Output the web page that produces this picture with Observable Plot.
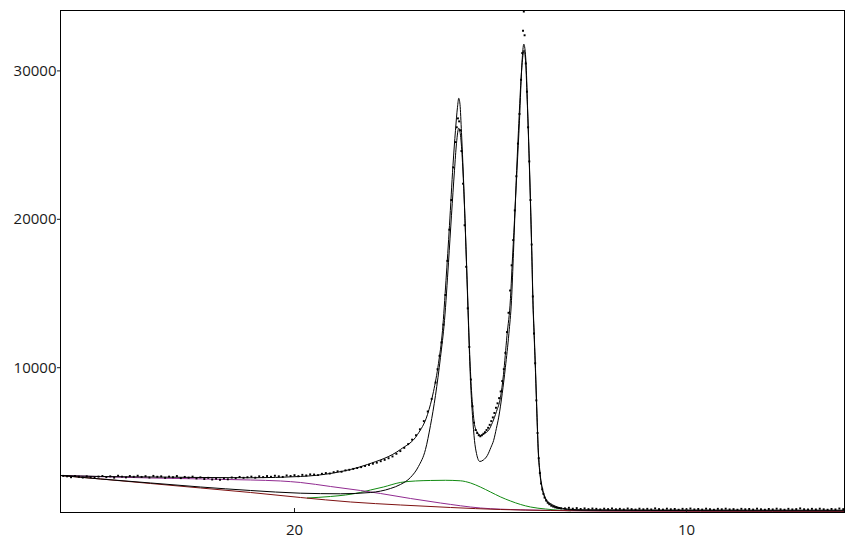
<!DOCTYPE html>
<html>
<head>
<meta charset="utf-8">
<script src="https://cdn.jsdelivr.net/npm/d3@7"></script>
<script src="https://cdn.jsdelivr.net/npm/@observablehq/plot@0.6"></script>
<style>
  html, body { margin: 0; padding: 0; background: white; }
</style>
</head>
<body>
<div id="chart"></div>
<script>
const xTicks = [20, 10];
const yTicks = [10000, 20000, 30000];

const totalX = [25.969, 24.949, 23.673, 22.398, 21.122, 19.847, 19.005, 18.138, 17.296, 16.862, 16.607, 16.454, 16.327, 16.224, 16.135, 16.046, 15.957, 15.893, 15.842, 15.809, 15.778, 15.740, 15.689, 15.638, 15.587, 15.536, 15.485, 15.446, 15.408, 15.332, 15.255, 15.153, 15.051, 14.949, 14.847, 14.745, 14.668, 14.579, 14.490, 14.452, 14.388, 14.324, 14.260, 14.196, 14.150, 14.094, 14.056, 14.018, 13.980, 13.946, 13.916, 13.883, 13.852, 13.814, 13.783, 13.737, 13.686, 13.635, 13.571, 13.469, 13.291, 13.036, 12.704, 10.918, 5.969];
const totalY = [2738, 2670, 2636, 2603, 2583, 2670, 2906, 3479, 4491, 5495, 6844, 8395, 10283, 12508, 15880, 19588, 23634, 25994, 27545, 28153, 27748, 25860, 22758, 19117, 15206, 11295, 8463, 7114, 6177, 5637, 5435, 5570, 5772, 6311, 7053, 7997, 9548, 12178, 14672, 16696, 19932, 23304, 26675, 30586, 31800, 30586, 27687, 24652, 21281, 17909, 14538, 12178, 9953, 6918, 4626, 2940, 1996, 1456, 1086, 850, 614, 479, 425, 411, 398];

const innerX = [25.969, 24.949, 23.673, 22.398, 21.122, 19.847, 18.827, 18.061, 17.551, 17.296, 17.041, 16.837, 16.658, 16.531, 16.403, 16.276, 16.173, 16.071, 15.995, 15.918, 15.867, 15.809, 15.765, 15.714, 15.663, 15.612, 15.561, 15.510, 15.459, 15.408, 15.357, 15.273, 15.18, 15.08, 14.99, 14.92, 14.85, 14.79, 14.70, 14.62, 14.53, 14.464, 14.413, 14.349, 14.286, 14.222, 14.171, 14.145, 14.107, 14.056, 14.018, 13.980, 13.946, 13.916, 13.883, 13.852, 13.814, 13.783, 13.737, 13.686, 13.635, 13.571, 13.469, 13.291, 13.036, 12.704, 10.918, 5.969];
const innerY = [2738, 2502, 2232, 1962, 1726, 1544, 1504, 1591, 1861, 2131, 2603, 3345, 4491, 6109, 8132, 10694, 13189, 17100, 20270, 23304, 25124, 26136, 25664, 23843, 20809, 16965, 12852, 9143, 6783, 5098, 4221, 3682, 3783, 4086, 4626, 5098, 5907, 6669, 8267, 10019, 12312, 14537, 17775, 22292, 26001, 29373, 31058, 31396, 30716, 27485, 24450, 21011, 17572, 14268, 11908, 9683, 6649, 4423, 2805, 1895, 1389, 1018, 782, 560, 445, 398, 378, 357];

const greenX = [19.67, 19.08, 18.70, 18.32, 18.06, 17.73, 17.30, 16.91, 16.53, 16.15, 15.77, 15.51, 15.26, 15.00, 14.74, 14.49, 14.23, 13.98, 13.60, 13.21, 12.96];
const greenY = [1220, 1322, 1423, 1591, 1760, 1962, 2266, 2367, 2401, 2414, 2380, 2232, 1962, 1625, 1288, 1018, 782, 614, 479, 391, 357];

const purpleX = [25.969, 23.673, 21.122, 20.357, 19.847, 19.082, 18.316, 17.806, 17.041, 16.276, 15.255, 14.235, 13.214, 9.643, 5.969];
const purpleY = [2738, 2569, 2434, 2367, 2266, 1996, 1726, 1524, 1187, 883, 546, 425, 375, 332, 326];

const redX = [25.969, 24.949, 23.673, 22.398, 21.122, 19.847, 18.571, 17.296, 16.020, 14.745, 13.469, 12.194, 9.643, 5.969];
const redY = [2738, 2502, 2198, 1895, 1591, 1254, 951, 749, 580, 445, 378, 344, 330, 324];

const dotX = [
  25.9, 25.8, 25.7, 25.6, 25.5, 25.4, 25.3, 25.2, 25.1, 25.0, 24.9, 24.8, 24.7, 24.6, 24.5, 24.4, 24.3, 24.2, 24.1, 24.0,
  23.9, 23.8, 23.7, 23.6, 23.5, 23.4, 23.3, 23.2, 23.1, 23.0, 22.9, 22.8, 22.7, 22.6, 22.5, 22.4, 22.3, 22.2, 22.1, 22.0,
  21.9, 21.8, 21.7, 21.6, 21.5, 21.4, 21.3, 21.2, 21.1, 21.0, 20.9, 20.8, 20.7, 20.6, 20.5, 20.4, 20.3, 20.2, 20.1, 20.0,
  19.9, 19.8, 19.7, 19.6,
  19.5, 19.4, 19.3, 19.2, 19.1, 19.0, 18.9, 18.8, 18.7, 18.6, 18.5, 18.4, 18.3, 18.2, 18.1, 18.0, 17.9, 17.8, 17.7, 17.6,
  17.5, 17.4, 17.3, 17.2, 17.1, 17.0, 16.9, 16.8, 16.7, 16.6, 16.5, 16.4,
  16.35, 16.30, 16.25, 16.20, 16.15, 16.10, 16.05, 16.00, 15.95, 15.90, 15.86, 15.83, 15.80, 15.77, 15.74, 15.70, 15.66, 15.62, 15.58, 15.54,
  15.50, 15.46, 15.42, 15.38, 15.34, 15.30, 15.26, 15.22, 15.18, 15.14, 15.10, 15.06, 15.02, 14.98, 14.94, 14.90, 14.86, 14.82, 14.78, 14.74,
  14.70, 14.66, 14.62, 14.58, 14.54, 14.50, 14.46, 14.42, 14.38, 14.34, 14.30, 14.26, 14.22, 14.19, 14.17, 14.15, 14.13, 14.10, 14.07, 14.04,
  14.01, 13.98, 13.95, 13.92, 13.89, 13.86, 13.83, 13.80, 13.77, 13.74, 13.71, 13.68, 13.65, 13.62, 13.58, 13.54, 13.50, 13.45, 13.40, 13.35,
  13.30, 13.25, 13.20,
  13.1, 13.0, 12.9, 12.8, 12.7, 12.6, 12.5, 12.4, 12.3, 12.2, 12.1, 12.0, 11.9, 11.8, 11.7, 11.6, 11.5, 11.4, 11.3, 11.2,
  11.1, 11.0, 10.9, 10.8, 10.7, 10.6, 10.5, 10.4, 10.3, 10.2, 10.1, 10.0, 9.9, 9.8, 9.7, 9.6, 9.5, 9.4, 9.3, 9.2,
  9.1, 9.0, 8.9, 8.8, 8.7, 8.6, 8.5, 8.4, 8.3, 8.2, 8.1, 8.0, 7.9, 7.8, 7.7, 7.6, 7.5, 7.4, 7.3, 7.2,
  7.1, 7.0, 6.9, 6.8, 6.7, 6.6, 6.5, 6.4, 6.3, 6.2, 6.1, 6.0
];
const dotY = [
  2710, 2680, 2620, 2700, 2650, 2600, 2680, 2630, 2570, 2660, 2700, 2620, 2680, 2590, 2720, 2660, 2610, 2700, 2650, 2720,
  2640, 2690, 2600, 2710, 2650, 2680, 2580, 2660, 2620, 2700, 2560, 2640, 2590, 2660, 2540, 2610, 2500, 2580, 2470, 2520,
  2450, 2540, 2480, 2600, 2560, 2640, 2580, 2620, 2660, 2590, 2680, 2630, 2700, 2650, 2720, 2680, 2640, 2740, 2700, 2760,
  2690, 2780, 2740, 2810,
  2800, 2760, 2850, 2900, 2870, 2960, 3020, 2990, 3080, 3120, 3180, 3240, 3300, 3380, 3450, 3530, 3600, 3700, 3790, 3900,
  4020, 4200, 4380, 4600, 4850, 5150, 5450, 5850, 6400, 7050, 7900, 9000,
  9900, 10800, 11700, 12900, 14900, 17200, 19300, 21300, 23500, 25200, 26200, 26800, 26600, 26000, 24600, 22400, 19600, 16800, 14000, 11400,
  9200, 7400, 6300, 5800, 5600, 5450, 5380, 5450, 5550, 5650, 5800, 5950, 6150, 6400, 6650, 6950, 7300, 7600, 7950, 8400,
  9100, 9900, 11000, 12400, 13700, 15200, 16900, 18600, 20600, 22900, 25100, 27100, 29400, 31200, 32700, 34000, 32400, 30500, 28600, 26200,
  23900, 21300, 18300, 14800, 12300, 10300, 7800, 5600, 3900, 2900, 2200, 1800, 1500, 1250, 1050, 900, 800, 700, 640, 590,
  560, 540, 520,
  520, 560, 500, 540, 480, 520, 470, 510, 490, 450, 500, 470, 520, 460, 490, 450, 510, 470, 440, 500,
  460, 490, 450, 520, 470, 440, 500, 460, 480, 430, 490, 460, 510, 450, 480, 440, 500, 470, 430, 490,
  460, 500, 450, 470, 430, 490, 460, 480, 440, 500, 460, 430, 480, 450, 500, 460, 430, 490, 450, 470,
  520, 460, 440, 490, 450, 500, 460, 430, 480, 450, 510, 470
];

const rows = (xs, ys) => xs.map((x, i) => ({x, y: ys[i]}));

const xDomain = [25.969, 5.969];
const yDomain = [243, 34070];

const lineOpts = (stroke) => ({x: "x", y: "y", stroke, strokeWidth: 1, curve: "monotone-x"});

const chart = Plot.plot({
  width: 853,
  height: 540,
  marginTop: 10,
  marginRight: 9,
  marginBottom: 28,
  marginLeft: 60,
  x: {domain: xDomain},
  y: {domain: yDomain},
  style: {fontFamily: "'Open Sans', sans-serif", fontSize: "15px", color: "#1a1a1a", background: "white"},
  marks: [
    Plot.line(rows(greenX, greenY), lineOpts("#118a11")),
    Plot.line(rows(purpleX, purpleY), lineOpts("#912b91")),
    Plot.line(rows(redX, redY), lineOpts("#7d1111")),
    Plot.line(rows(innerX, innerY), lineOpts("black")),
    Plot.line(rows(totalX, totalY), lineOpts("black")),
    Plot.dot(rows(dotX, dotY), {x: "x", y: "y", r: 1.1, symbol: "square", fill: "black"}),
    Plot.axisY({ticks: yTicks, tickSize: 3, tickPadding: 1, tickFormat: d => String(d), label: null}),
    Plot.axisX({ticks: xTicks, tickSize: 4, dy: -4, tickFormat: () => "", label: null}),
    Plot.axisX({ticks: xTicks, tickSize: 0, tickPadding: 12, tickFormat: d => String(d), label: null}),
    Plot.frame({stroke: "black", strokeWidth: 1})
  ]
});
document.getElementById("chart").appendChild(chart);
</script>
</body>
</html>
